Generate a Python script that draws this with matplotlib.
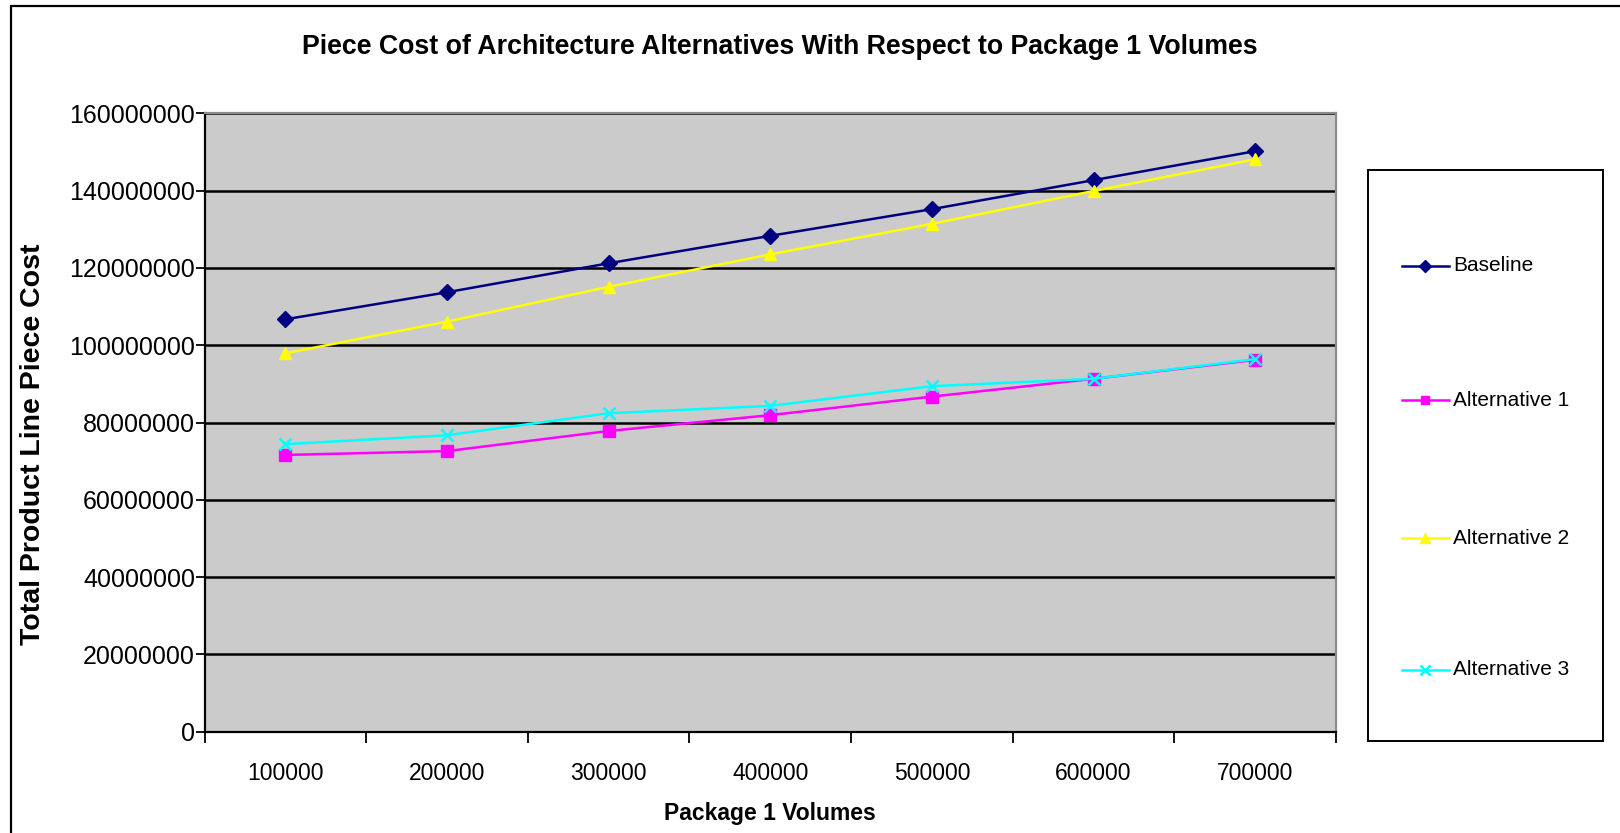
import matplotlib
matplotlib.use("Agg")
import matplotlib.pyplot as plt
from matplotlib.lines import Line2D
from matplotlib.patches import Rectangle
from matplotlib.ticker import FixedLocator, NullFormatter

plt.rcParams['font.family'] = ['Liberation Sans', 'DejaVu Sans']

volumes = ["100000", "200000", "300000", "400000", "500000", "600000", "700000"]
baseline = [106.7e6, 113.7e6, 121.2e6, 128.3e6, 135.2e6, 142.7e6, 150.2e6]
alternative_1 = [71.6e6, 72.6e6, 77.8e6, 81.9e6, 86.7e6, 91.3e6, 96.2e6]
alternative_2 = [97.9e6, 106.1e6, 115.1e6, 123.5e6, 131.4e6, 139.9e6, 148.1e6]
alternative_3 = [74.4e6, 76.7e6, 82.4e6, 84.3e6, 89.4e6, 91.3e6, 96.4e6]
series_names = ["Baseline", "Alternative 1", "Alternative 2", "Alternative 3"]
y_ticks = [0, 20000000, 40000000, 60000000, 80000000, 100000000,
           120000000, 140000000, 160000000]

styles = [
    dict(color="#000080", marker="D", markersize=8),
    dict(color="#FF00FF", marker="s", markersize=8),
    dict(color="#FFFF00", marker="^", markersize=9),
    dict(color="#00FFFF", marker="x", markersize=9, markeredgewidth=1.8),
]

W, H = 1620, 833
fig = plt.figure(figsize=(W / 100, H / 100), dpi=100)
fig.patch.set_facecolor("white")

# outer chart frame (left and top edges visible)
fig.patches.append(Rectangle((11 / W, -0.2), 1.5, (H - 6) / H + 0.2,
                             transform=fig.transFigure, fill=False,
                             edgecolor="black", linewidth=1.6))

ax = fig.add_axes([204.6 / W, 1 - 731.7 / H, (1336 - 204.6) / W, (731.7 - 113.3) / H])
ax.set_facecolor("#CBCBCB")

xs = list(range(len(volumes)))
data = [baseline, alternative_1, alternative_2, alternative_3]
for vals, st, name in zip(data, styles, series_names):
    ax.plot(xs, vals, linewidth=1.8, label=name, zorder=3, **st)

ax.set_xlim(-0.5, len(volumes) - 0.5)
ax.set_ylim(0, 160000000)
ax.set_yticks(y_ticks)
ax.set_yticklabels([str(v) for v in y_ticks], fontsize=18)
ax.yaxis.grid(True, color="black", linewidth=1.8, zorder=1)
ax.set_axisbelow(True)

ax.set_xticks(xs)
ax.set_xticklabels(volumes, fontsize=16.5)
ax.tick_params(axis="x", which="major", length=0, pad=22)
ax.xaxis.set_minor_locator(FixedLocator([i - 0.5 for i in range(len(volumes) + 1)]))
ax.xaxis.set_minor_formatter(NullFormatter())
ax.tick_params(axis="x", which="minor", length=8, width=1.3, color="black")
ax.tick_params(axis="y", length=6.5, width=1.3, pad=0.5)

ax.spines["left"].set_color("black")
ax.spines["left"].set_linewidth(1.6)
ax.spines["bottom"].set_color("black")
ax.spines["bottom"].set_linewidth(1.6)
ax.spines["top"].set_color("#8C8C8C")
ax.spines["top"].set_linewidth(1.6)
ax.spines["right"].set_color("#8C8C8C")
ax.spines["right"].set_linewidth(1.6)

ax.set_ylabel("Total Product Line Piece Cost", fontsize=20.5, fontweight="bold",
              va="center")
ax.yaxis.set_label_coords((33 - 204.6) / (1336 - 204.6), 0.465)
ax.set_xlabel("Package 1 Volumes", fontsize=16.5, fontweight="bold", labelpad=12)

fig.text(780 / W, 1 - 47.5 / H,
         "Piece Cost of Architecture Alternatives With Respect to Package 1 Volumes",
         ha="center", va="center", fontsize=19.3, fontweight="bold")

# legend box with evenly spread entries
fig.patches.append(Rectangle((1368 / W, 1 - 741 / H), (1603 - 1368) / W, (741 - 169.5) / H,
                             transform=fig.transFigure, fill=False,
                             edgecolor="black", linewidth=1.4))
entry_y = [265.5, 400, 538, 669.5]
for yy, st, name in zip(entry_y, styles, series_names):
    fy = 1 - yy / H
    fig.add_artist(Line2D([1402 / W, 1449 / W], [fy, fy], transform=fig.transFigure,
                          color=st["color"], linewidth=1.8))
    mst = {k: v for k, v in st.items() if k != "color"}
    mst["markersize"] = st["markersize"] * 0.8
    fig.add_artist(Line2D([1425 / W], [fy], transform=fig.transFigure,
                          color=st["color"], linestyle="none", **mst))
    fig.text(1453 / W, fy, name, ha="left", va="center", fontsize=15)

fig.savefig("out.png", dpi=100)
